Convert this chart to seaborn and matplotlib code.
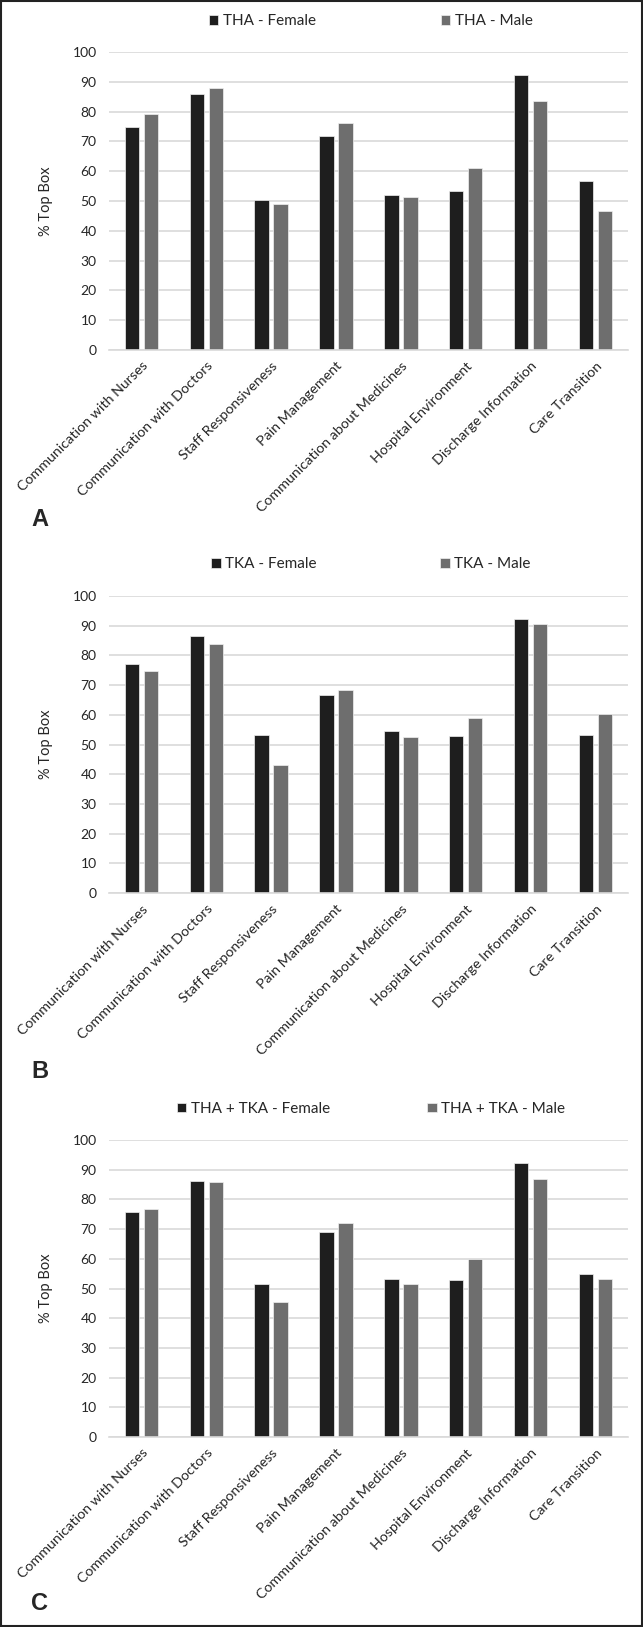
import matplotlib
matplotlib.use("Agg")
import matplotlib.pyplot as plt
from matplotlib.patches import Rectangle
import seaborn as sns
import pandas as pd

# HCAHPS domains
categories = ["Communication with Nurses", "Communication with Doctors",
              "Staff Responsiveness", "Pain Management",
              "Communication about Medicines", "Hospital Environment",
              "Discharge Information", "Care Transition"]

# % top box
tha_female = [74.9, 85.9, 50.3, 71.7, 52.1, 53.5, 92.4, 56.8]
tha_male = [79.3, 88.0, 48.9, 76.2, 51.4, 61.1, 83.4, 46.6]
tka_female = [77.2, 86.4, 53.3, 66.5, 54.6, 52.8, 92.4, 53.3]
tka_male = [74.6, 83.7, 43.0, 68.4, 52.6, 59.0, 90.5, 60.2]
all_female = [75.9, 86.2, 51.6, 68.9, 53.1, 52.9, 92.4, 54.8]
all_male = [76.8, 85.7, 45.5, 72.2, 51.5, 59.8, 86.8, 53.1]

panels = [
    ("A", "THA", tha_female, tha_male),
    ("B", "TKA", tka_female, tka_male),
    ("C", "THA + TKA", all_female, all_male),
]

sns.set_style("white")
plt.rcParams["font.family"] = ["Lato", "DejaVu Sans"]

fig = plt.figure(figsize=(6.43, 16.27), dpi=100)

# axes rectangles (left, bottom, width, height) in figure fraction
boxes = [(0.1695, 0.7849, 0.807, 0.1832),
         (0.1695, 0.4511, 0.807, 0.1826),
         (0.1695, 0.1168, 0.807, 0.1825)]
legend_y = [0.987, 0.6533, 0.3184]
letter_y = [1 - 520 / 1627, 1 - 1071 / 1627, 1 - 1603 / 1627]
col_space = [8.2, 8.1, 6.4]

for i, (letter, proc, fem, male) in enumerate(panels):
    ax = fig.add_axes(boxes[i])
    f_lab = proc + " - Female"
    m_lab = proc + " - Male"
    df = pd.DataFrame({
        "domain": categories * 2,
        "value": fem + male,
        "group": [f_lab] * len(categories) + [m_lab] * len(categories),
    })
    sns.barplot(data=df, x="domain", y="value", hue="group",
                hue_order=[f_lab, m_lab],
                palette={f_lab: "#1e1e1e", m_lab: "#6e6e6e"},
                width=0.585, gap=0.24, edgecolor="#f0f0f0", linewidth=0.5,
                ax=ax)
    ax.set_ylim(0, 100)
    ax.set_xlim(-0.5, len(categories) - 0.5)
    ax.set_yticks(range(0, 101, 10))
    ax.yaxis.grid(True, color="#d9d9d9", lw=1.2)
    ax.set_axisbelow(True)
    for s in ["top", "left", "right"]:
        ax.spines[s].set_visible(False)
    ax.spines["bottom"].set_color("#d9d9d9")
    ax.spines["bottom"].set_linewidth(1.2)
    ax.tick_params(axis="both", length=0, colors="#262626")
    ax.tick_params(axis="y", pad=9, labelsize=10)
    ax.tick_params(axis="x", pad=7, labelsize=10.3)
    ax.set_xlabel("")
    ax.set_ylabel("% Top Box", fontsize=10.5, color="#262626", labelpad=14)
    plt.setp(ax.get_xticklabels(), rotation=45, ha="right",
             rotation_mode="anchor")

    handles, labels = ax.get_legend_handles_labels()
    ax.get_legend().remove()
    fig.legend(handles, labels, loc="center", ncol=2,
               bbox_to_anchor=(0.577, legend_y[i]),
               bbox_transform=fig.transFigure, frameon=False,
               fontsize=11, handlelength=0.6, handleheight=0.6,
               handletextpad=0.3, columnspacing=col_space[i],
               labelcolor="#262626")

    fig.text(0.062, letter_y[i], letter, fontsize=17, fontweight="bold",
             family="Liberation Sans", ha="center", va="center")

fig.patches.append(Rectangle((0.0015, 0.0008), 0.997, 0.9985,
                             transform=fig.transFigure, fill=False,
                             edgecolor="#222222", lw=1.5))

fig.savefig("out.png", dpi=100)
